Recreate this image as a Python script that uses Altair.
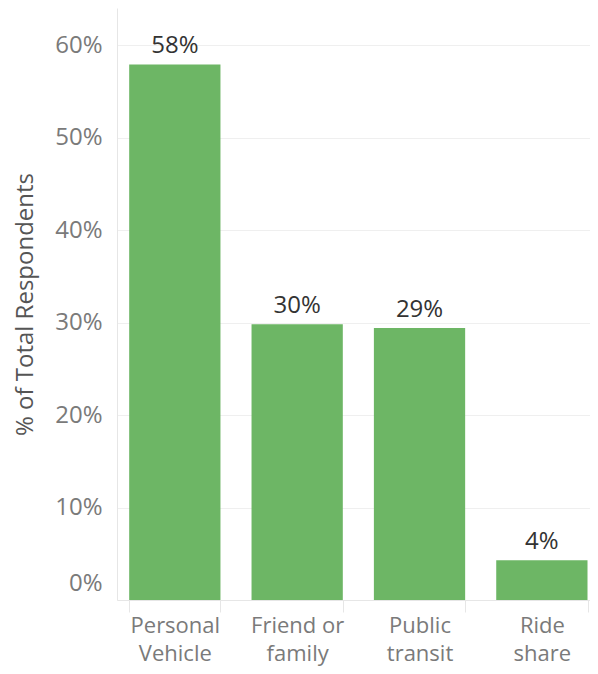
import altair as alt
import pandas as pd

categories = ["Personal Vehicle", "Friend or family", "Public transit", "Ride share"]
values = [0.579, 0.298, 0.294, 0.043]

df = pd.DataFrame({"mode": categories, "share": values})

FONT = "Open Sans"

base = alt.Chart(df).encode(
    x=alt.X(
        "mode:N",
        sort=categories,
        title=None,
        scale=alt.Scale(paddingInner=0.254, paddingOuter=0.06, align=0.83),
        axis=alt.Axis(
            labelAngle=0,
            labelExpr="datum.label == 'Friend or family' ? ['Friend or', 'family'] : split(datum.label, ' ')",
            labelFont=FONT,
            labelFontSize=22,
            labelColor="#7a7a7a",
            labelLineHeight=28,
            labelPadding=3,
            tickBand="extent",
            tickColor="#e6e6e6",
            tickSize=12,
            domainColor="#e6e6e6",
            grid=False,
        ),
    ),
    y=alt.Y(
        "share:Q",
        title="% of Total Respondents",
        scale=alt.Scale(domain=[0, 0.64], nice=False),
        axis=alt.Axis(
            format=".0%",
            values=[0, 0.1, 0.2, 0.3, 0.4, 0.5, 0.6],
            labelFont=FONT,
            labelFontSize=24,
            labelColor="#7a7a7a",
            labelPadding=15,
            labelOffset={"condition": {"test": "datum.value === 0", "value": -17}, "value": 0},
            ticks=False,
            domainColor="#e6e6e6",
            gridColor="#efefef",
            titleFont=FONT,
            titleFontSize=24,
            titleFontWeight="normal",
            titleColor="#555555",
            titleX=-92,
            titleAngle=270,
            titleAlign="center",
            titleBaseline="middle",
        ),
    ),
)

bars = base.mark_bar(color="#6db665")

text = base.mark_text(
    baseline="alphabetic", dy=-11, font=FONT, fontSize=24, color="#333333"
).encode(text=alt.Text("share:Q", format=".0%"))

chart = (
    (bars + text)
    .properties(
        width=473,
        height=592,
        autosize=alt.AutoSizeParams(type="none"),
        padding={"left": 109, "top": 0, "right": 0, "bottom": 66},
    )
    .configure_view(stroke=None)
)

chart.save("out.html", embed_options={"renderer": "svg", "actions": False})
